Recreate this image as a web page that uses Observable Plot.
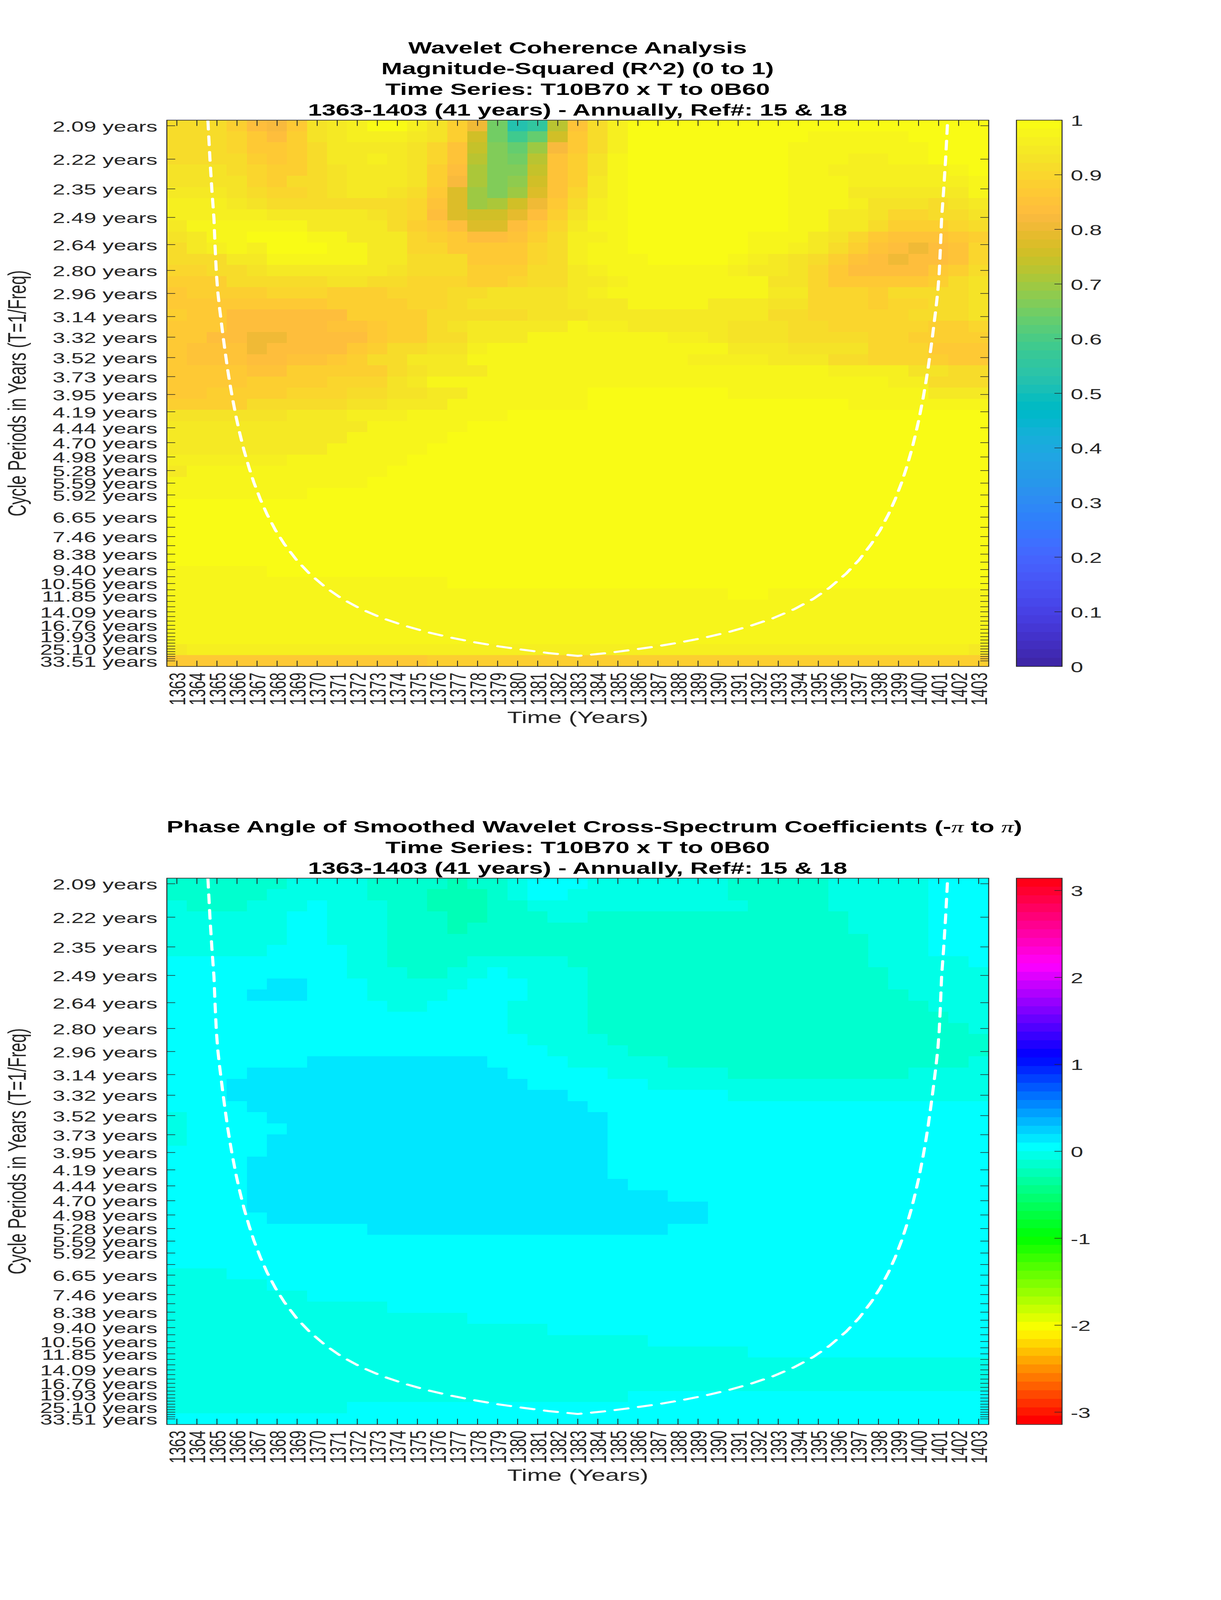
<!DOCTYPE html>
<html>
<head>
<meta charset="utf-8">
<title>Wavelet Coherence Analysis</title>
<script src="https://cdn.jsdelivr.net/npm/d3@7"></script>
<script src="https://cdn.jsdelivr.net/npm/@observablehq/plot@0.6"></script>
<style>
html,body{margin:0;padding:0;background:#fff;overflow:hidden;}
#page{position:relative;width:3125px;height:6252px;background:#fff;overflow:hidden;font-family:"Liberation Sans",Arial,sans-serif;transform-origin:0 0;}
.title{position:absolute;text-align:center;font-weight:bold;font-size:64px;line-height:81px;color:#000;white-space:nowrap;}
.pi{font-family:"Liberation Serif",serif;font-style:italic;font-weight:normal;}
.fig{position:absolute;}
.fig svg{display:block;max-width:none;}
</style>
</head>
<body>
<div id="page"></div>
<script>
const years = [1363,1364,1365,1366,1367,1368,1369,1370,1371,1372,1373,1374,1375,1376,1377,1378,1379,1380,1381,1382,1383,1384,1385,1386,1387,1388,1389,1390,1391,1392,1393,1394,1395,1396,1397,1398,1399,1400,1401,1402,1403];
const periods = [2.09,2.22,2.35,2.49,2.64,2.80,2.96,3.14,3.32,3.52,3.73,3.95,4.19,4.44,4.70,4.98,5.28,5.59,5.92,6.28,6.65,7.05,7.46,7.91,8.38,8.88,9.40,9.96,10.56,11.18,11.85,12.55,13.30,14.09,14.93,15.82,16.76,17.76,18.81,19.93,21.12,22.37,23.70,25.10,26.60,28.18,29.86,31.63,33.51];
const labelledPeriods = [2.09,2.22,2.35,2.49,2.64,2.80,2.96,3.14,3.32,3.52,3.73,3.95,4.19,4.44,4.70,4.98,5.28,5.59,5.92,6.65,7.46,8.38,9.40,10.56,11.85,14.09,16.76,19.93,25.10,33.51];

// Coherence (percent), one row per period, run-length notation value*count
const coherenceRows = [
"91*3 88 84 82 87 93 95 96 99 99 96 93 89 80 65 53 56 72 85 91 96 99*18",
"92*3 90 86 84 88 93 95 96 96 96 95 93 89 76 65 58 63 76 86 91 96 99*9 98*5 99*4",
"92*3 90 87 86 88 92 94 95 95 95 93 90 85 74 66 64 69 82 87 92 96 99*8 98*7 99*3",
"92*3 91 88 87 89 92 94 95 96 94 93 90 85 73 66 65 72 85 88 93 97 99*8 98*3 96*2 98*2 99*3",
"93*3 92 90 88 88 92 93 95 95 95 93 89 83 71 66 67 74 85 89 93 97 99*8 98*2 96*6 97 99",
"93*4 90 89 91 92 93 95 95 95 93 89 82 71 66 68 76 85 89 94 98 99*8 98*3 96*6 98",
"94*3 93 91 90 90 91 93 95 95 93 92 87 78 69 67 70 78 85 90 95 98 99*8 98*3 95*2 94*3 95 97",
"96*3 94 93 92*7 90 85 77 70 71 75 81 87 92 96 98 99*8 98*3 96 93*3 92 93 95",
"96*5 94*5 93 92 90 84 78 76 76 79 84 88 93 96 98 99*8 98*2 95*2 93 90*2 91*2 93",
"95 97*6 95*4 92 89 87 84 78 78 83 86 90 94 97 98 99*8 97*2 94*2 92 88*3 90 92",
"93 95 98 98 99 99 99 97 97 94 94 94 90 88 86 83 83 85 89 92 96 96 98 99*6 98*2 97 95 93 90 87 85*3 86 88",
"92 94 96 97 96 99 99 99 97 97 95 95 90 90 87*4 90 92 96 97 98 99*6 97*2 96 95 92 89 85 84 81 83 85 90",
"91 92 92 95 95 97*5 95 94 91*3 87*3 90 92 96 97 98 98 99*4 97 96 95 93 92 89 85 84 81 83 84 85 90",
"90 90 91 91 93 95*5 94 93 91*3 88 88 89 91 92 95 96 97 98*5 96 95 94 93 90 86 84*4 86 88 92",
"88*3 91 91 92*3 93 93 91 91 90*3 89 89 90 92 92 94 95 96 98*5 97*2 93*2 90 87*5 88 91 93",
"87 88*4 90*3 89*3 90*3 92 92 93*4 94 96 97 97*7 94*2 90*3 89 91*2 92*2 93",
"87*8 88*4 90 90 91 93*5 95 95 95 97*4 95*3 93*2 90*3 88 90*2 92*2 93",
"88 87 86 84*6 88*4 91 92*4 93*3 95 95 95*5 94*2 92*2 90*5 91*3 93",
"87 86 86 83*5 85 85 86 88 88 91 93 95*5 97 96 96 94*5 93*3 91*2 90*5 89*2 90",
"87 86 84 84 80 80 83 83 84 84 86 88 88 92 92 95*3 97*5 97 97 96 96 95 93*3 91*4 90*2 88*3 89",
"86 85*3 80 83*3 84 87 89 91 91 93 93 96 97*7 97*5 95*3 93*4 90*3 87*3",
"86 85*3 83 83 85 85 87 88 91 91 94 94 95 97*6 98 98 98*3 96*4 94*3 92*2 90*3 89 87*2",
"86*4 85 85 88*3 89 89 92 93 95*3 98*7 98*10 96*4 93*2 92*2",
"87*4 88*4 90*3 93 95 97*5 98*5 98*13 96*2 92*3",
"87*2 88*4 90*3 92*2 93*2 95*2 97*6 99*2 99*5 98*10 95*3",
"89*4 92*5 93*2 95*3 97*5 98*2 99*2 99*11 97*7",
"93*6 94*3 96*3 98*5 99*24",
"94*7 95*3 97*5 99*26",
"94*5 95*4 97*5 99*27",
"94*2 95*6 97*5 99*28",
"96*6 97*6 99*29",
"94 97*10 99*30",
"98*10 99*31",
"98*7 99*34",
"99*41","99*41","99*41","99*41","99*41","99*41",
"98*5 99*36",
"98*14 99*27",
"98*28 99*2 98*11",
"98*41",
"98*41",
"97 98*40",
"97*41",
"95 96*39 95",
"87*13 88*14 89*14"
];

// Phase, one row per period: letter+count runs
const phaseValues = {a:-0.25,b:-0.15,c:-0.05,d:0.05,e:0.15};
const phaseRows = [
"b6c4b4a1b2c1d3c7b5c5d3","b5c5b3a3b1c1d2c8b5c5d3","c1b3c3d1c3b2a3b2c11b4c5d3","c6d2c3b3a2b3c2b13c4d3",
"c6d2c3b3a1b19c4d3","c6d2c3b24c3d3","c5d4c2b24c3d3","d9c2b4c5b15c5d1","d9c3b2c2d1c4b15c5",
"d5e2d3c5d3c3b15c5","d4e3d3c4d4c3b16c4","d11c2d4c4b17c3","d17c4b18c2","d17c4b19c1","d18c4b19","d19c4b18",
"d7e9d4c5b15c1","d4e13d5c6b9c4","d3e15d6c17","d3e17d8c13","d4e17d20","c1d4e17d19","c1d5e16d19","c1d4e17d19",
"d5e17d19","d4e18d19","d4e18d19","d4e19d18","d4e21d16","d4e23d14","d5e22d14","d10e15d16",
"d41","d41","d41","c3d38","c5d36","c7d34","c11d30","c15d26","c19d22","c24d17","c29d12","c41","c41","c41","c23d18","c9d32","d41"
];

// Cone of influence
const coiYears = [1364.55,1364.65,1364.75,1364.85,1364.91,1364.97,1365.04,1365.14,1365.24,1365.31,1365.41,1365.53,1365.65,1365.77,1365.97,1366.15,1366.35,1366.60,1366.84,1367.17,1367.50,1367.92,1368.36,1368.97,1369.62,1370.43,1371.24,1372.20,1373.26,1374.39,1375.48,1376.68,1377.87,1379.06,1380.25,1381.54,1383.00,1384.46,1385.75,1386.94,1388.13,1389.32,1390.52,1391.61,1392.74,1393.80,1394.76,1395.57,1396.38,1397.03,1397.64,1398.08,1398.50,1398.83,1399.16,1399.40,1399.65,1399.85,1400.03,1400.23,1400.35,1400.47,1400.59,1400.69,1400.76,1400.86,1400.96,1401.03,1401.09,1401.15,1401.25,1401.35,1401.45];
const coiFreq = [.4826,.4506,.4238,.4008,.3760,.3549,.3395,.3243,.3108,.3013,.2889,.2745,.2619,.2504,.2332,.2198,.2063,.1919,.1795,.1651,.1527,.1394,.1278,.1144,.1029,.0913,.0819,.0732,.0656,.0592,.0540,.0493,.0454,.0420,.0392,.0364,.0340,.0364,.0392,.0420,.0454,.0493,.0540,.0592,.0656,.0732,.0819,.0913,.1029,.1144,.1278,.1394,.1527,.1651,.1795,.1919,.2063,.2198,.2332,.2504,.2619,.2745,.2889,.3013,.3108,.3243,.3395,.3549,.3760,.4008,.4238,.4506,.4826];

// MATLAB parula(64)
const parula = [[.2422,.1504,.6603],[.2504,.1650,.7076],[.2578,.1818,.7511],[.2647,.1978,.7952],[.2706,.2147,.8364],[.2751,.2342,.8710],[.2783,.2559,.8991],[.2803,.2782,.9221],[.2813,.3006,.9414],[.2810,.3228,.9579],[.2795,.3447,.9717],[.2760,.3667,.9829],[.2699,.3892,.9906],[.2602,.4123,.9952],[.2440,.4358,.9988],[.2206,.4603,.9973],[.1963,.4847,.9892],[.1834,.5074,.9798],[.1786,.5289,.9682],[.1764,.5499,.9520],[.1687,.5703,.9359],[.1540,.5902,.9218],[.1460,.6091,.9079],[.1380,.6276,.8973],[.1248,.6459,.8883],[.1113,.6635,.8763],[.0952,.6798,.8598],[.0689,.6948,.8394],[.0297,.7082,.8163],[.0036,.7203,.7917],[.0067,.7312,.7660],[.0433,.7411,.7394],[.0964,.7500,.7120],[.1408,.7584,.6842],[.1717,.7670,.6554],[.1938,.7758,.6251],[.2161,.7843,.5923],[.2470,.7918,.5567],[.2906,.7973,.5188],[.3406,.8008,.4789],[.3909,.8029,.4354],[.4456,.8024,.3909],[.5044,.7993,.3480],[.5616,.7942,.3045],[.6174,.7876,.2612],[.6720,.7793,.2227],[.7242,.7698,.1910],[.7738,.7598,.1646],[.8203,.7498,.1535],[.8634,.7406,.1596],[.9035,.7330,.1774],[.9393,.7288,.2100],[.9728,.7298,.2394],[.9956,.7434,.2371],[.9970,.7659,.2199],[.9952,.7893,.2028],[.9892,.8136,.1885],[.9786,.8386,.1766],[.9676,.8639,.1643],[.9610,.8890,.1537],[.9597,.9135,.1423],[.9628,.9373,.1265],[.9691,.9606,.1064],[.9769,.9839,.0805]]
  .map(c => d3.rgb(c[0]*255, c[1]*255, c[2]*255).formatHex());
const hsv64 = d3.range(64).map(i => d3.hsl(i / 64 * 360, 1, 0.5).formatHex());

const coherenceTitle = ["Wavelet Coherence Analysis","Magnitude-Squared (R^2) (0 to 1)","Time Series: T10B70 x T to 0B60","1363-1403 (41 years) - Annually, Ref#: 15 & 18"];
const phaseTitle = ['Phase Angle of Smoothed Wavelet Cross-Spectrum Coefficients (-<span class="pi">π</span> to <span class="pi">π</span>)',"Time Series: T10B70 x T to 0B60","1363-1403 (41 years) - Annually, Ref#: 15 & 18"];
const coherenceTicks = [0,0.1,0.2,0.3,0.4,0.5,0.6,0.7,0.8,0.9,1];
const phaseTicks = [-3,-2,-1,0,1,2,3];

const yAxisLabel = "Cycle Periods in Years (T=1/Freq)";
const xAxisLabel = "Time (Years)";
const ink = "#262626";

const decodeCoherence = s => s.split(" ").flatMap(t => {
  const [v, n] = t.split("*");
  return d3.range(+(n || 1)).map(() => +v / 100);
});
const decodePhase = s => [...s.matchAll(/([a-e])(\d+)/g)].flatMap(m => d3.range(+m[2]).map(() => phaseValues[m[1]]));

const coherence = coherenceRows.map(decodeCoherence);
const phase = phaseRows.map(decodePhase);

const freqs = periods.map(p => 1 / p);
const fStep = (freqs[0] - freqs[freqs.length - 1]) / (freqs.length - 1);
const freqDomain = [freqs[freqs.length - 1] - fStep / 2, freqs[0] + fStep / 2];
const labelOfFreq = new Map(labelledPeriods.map(p => [1 / p, p.toFixed(2) + " years"]));
const coi = coiYears.map((x, i) => ({x, f: coiFreq[i]}));

const L = 426.5, R = 2530, PH = 2134.7, PAD = 20;
const page = document.getElementById("page");

// The chart is laid out on a 6252-tall page; if the window is shorter, fit the page to it vertically so nothing is cut off.
const fit = Math.min(1, window.innerHeight / 6252);
page.style.transform = `scale(1, ${fit})`;
document.documentElement.style.height = document.body.style.height = (6252 * fit) + "px";

function cellsOf(rows) {
  return rows.flatMap((row, r) => row.map((value, c) => ({
    x1: years[c] - 0.5, x2: years[c] + 0.5,
    y1: freqs[0] + fStep / 2 - r * fStep, y2: freqs[0] - fStep / 2 - r * fStep, value
  })));
}

function panel(top, rows, colorScale) {
  const common = {label: null, stroke: ink, strokeWidth: 2.2};
  const plot = Plot.plot({
    width: 3125, height: PAD + PH + 340,
    marginLeft: L, marginRight: 3125 - R, marginTop: PAD, marginBottom: 340,
    style: {fontFamily: "Liberation Sans, Arial, sans-serif", fontSize: "57.5px", color: ink, background: "transparent", overflow: "visible"},
    x: {domain: [years[0] - 0.5, years[years.length - 1] + 0.5]},
    y: {domain: freqDomain},
    color: colorScale,
    marks: [
      Plot.rect(cellsOf(rows), {x1: "x1", x2: "x2", y1: "y1", y2: "y2", fill: "value", shapeRendering: "crispEdges"}),
      Plot.line(coi, {x: "x", y: "f", stroke: "white", strokeWidth: 8, strokeDasharray: "34,27", clip: true}),
      Plot.axisX({...common, anchor: "bottom", ticks: years, tickSize: -22, fill: "none"}),
      Plot.axisX({...common, anchor: "top", ticks: years, tickSize: -22, fill: "none"}),
      Plot.axisY({...common, anchor: "left", ticks: freqs, tickSize: -22, fill: "none"}),
      Plot.axisY({...common, anchor: "right", ticks: freqs, tickSize: -22, fill: "none"}),
      Plot.axisX({label: null, anchor: "bottom", ticks: years, tickSize: 0, tickPadding: 24, tickRotate: -90, tickFormat: d => String(d), dx: 3, fill: ink}),
      Plot.axisY({label: null, anchor: "left", ticks: freqs, tickSize: 0, tickPadding: 24, tickFormat: f => labelOfFreq.get(f) ?? "", dy: 4, fill: ink}),
      Plot.text([xAxisLabel], {frameAnchor: "bottom", dy: 200, lineAnchor: "middle", fontSize: 64, fill: ink}),
      Plot.text([yAxisLabel], {frameAnchor: "left", dx: 45 - L, rotate: -90, textAnchor: "middle", lineAnchor: "middle", fontSize: 64, fill: ink}),
      Plot.frame({stroke: ink, strokeWidth: 2.5})
    ]
  });
  const d = document.createElement("div");
  d.className = "fig";
  d.style.left = "0px";
  d.style.top = (top - PAD) + "px";
  d.appendChild(plot);
  page.appendChild(d);
}

function colorbar(top, domain, ticks, colorScale, n) {
  const step = (domain[1] - domain[0]) / n;
  const bands = d3.range(n).map(i => ({lo: domain[0] + i * step, hi: domain[0] + (i + 1) * step}));
  const bw = 116.7;
  const plot = Plot.plot({
    width: 20 + bw + 200, height: PAD * 2 + PH,
    marginLeft: 20, marginRight: 200, marginTop: PAD, marginBottom: PAD,
    style: {fontFamily: "Liberation Sans, Arial, sans-serif", fontSize: "57.5px", color: ink, background: "transparent", overflow: "visible"},
    x: {domain: [0, 1], axis: null},
    y: {domain},
    color: colorScale,
    marks: [
      Plot.rect(bands, {x1: 0, x2: 1, y1: "lo", y2: "hi", fill: d => (d.lo + d.hi) / 2, shapeRendering: "crispEdges"}),
      Plot.axisY({label: null, anchor: "right", ticks, tickSize: -20, stroke: ink, strokeWidth: 2.2, fill: "none"}),
      Plot.axisY({label: null, anchor: "right", ticks, tickSize: 0, tickPadding: 22, tickFormat: d => String(d), dy: 4, fill: ink, textAnchor: "start"}),
      Plot.frame({stroke: ink, strokeWidth: 2.5})
    ]
  });
  const d = document.createElement("div");
  d.className = "fig";
  d.style.left = (2601 - 20) + "px";
  d.style.top = (top - PAD) + "px";
  d.appendChild(plot);
  page.appendChild(d);
}

function title(lines, top) {
  const t = document.createElement("div");
  t.className = "title";
  t.style.left = L + "px";
  t.style.width = (R - L) + "px";
  t.style.top = top + "px";
  t.innerHTML = lines.map(l => l.replace(/&(?!\w+;)/g, "&amp;")).join("<br>");
  page.appendChild(t);
}

const coherenceColor = {type: "threshold", domain: d3.range(1, 64).map(i => i / 64), range: parula};
const phaseColor = {type: "threshold", domain: d3.range(1, 64).map(i => -Math.PI + 2 * Math.PI * i / 64), range: hsv64};

const T1 = 469, T2 = 3430.5;
title(coherenceTitle, 146.5);
title(phaseTitle, 3190);
panel(T1, coherence, coherenceColor);
panel(T2, phase, phaseColor);
colorbar(T1, [0, 1], coherenceTicks, coherenceColor, 64);
colorbar(T2, [-Math.PI, Math.PI], phaseTicks, phaseColor, 64);
</script>
</body>
</html>
